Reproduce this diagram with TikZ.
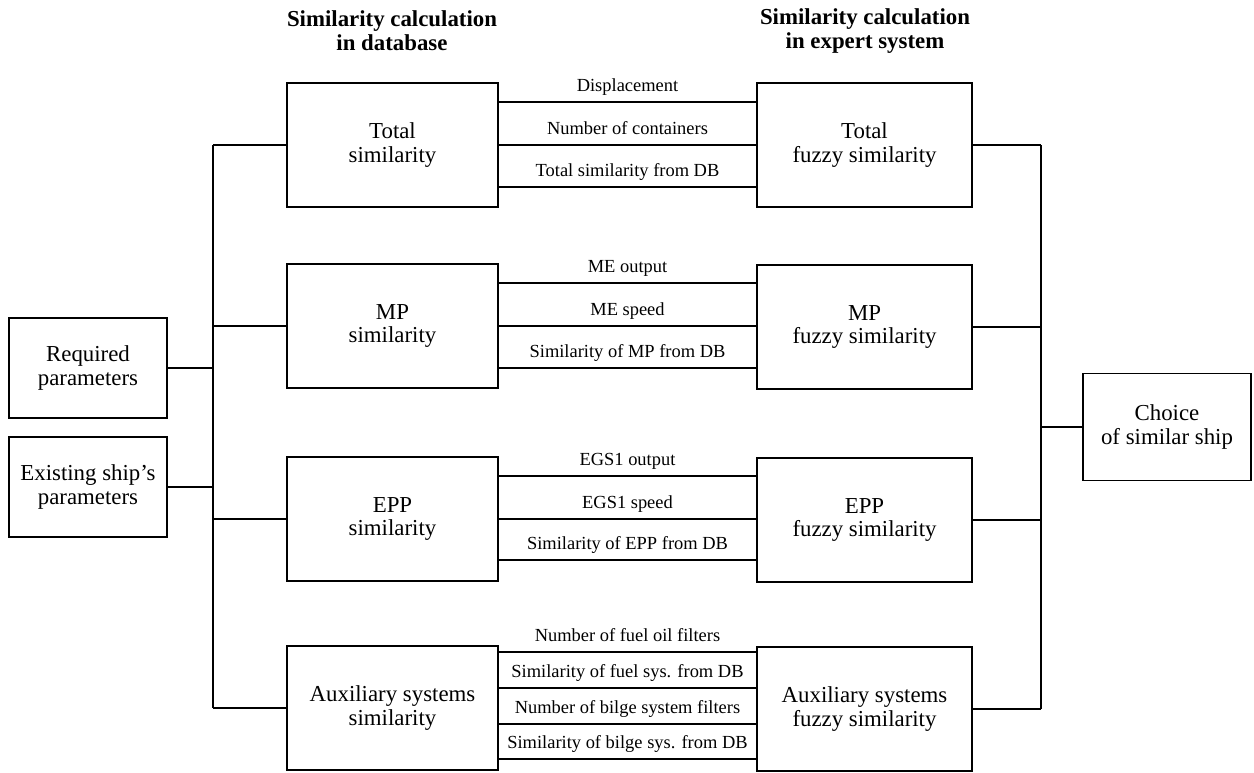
\documentclass[tikz,border=0pt]{standalone}
\usepackage{fontspec}
\setmainfont{Liberation Serif}

\begin{document}
\begin{tikzpicture}[x=0.02cm, y=-0.02cm, line width=0.9pt,
		box/.style={draw, align=center, inner sep=0pt, font=\fontsize{13}{13.5}\selectfont},
		lbox/.style={box, minimum width=4.22cm, minimum height=2.48cm},
		rbox/.style={box, minimum width=4.3cm, minimum height=2.48cm},
		sbox/.style={box, minimum width=3.16cm, minimum height=2cm},
		lbl/.style={above, inner sep=3pt, text height=7.5pt, text depth=2.5pt, font=\fontsize{10.5}{12}\selectfont},
		head/.style={align=center, font=\bfseries\fontsize{13}{13.6}\selectfont}]
			\useasboundingbox (0,0) rectangle (1254,772);
			\node[head] (hdb) at (392,31) {Similarity calculation\\in database};
			\node[head] (hes) at (865,31) {Similarity calculation\\in expert system};
			\node[sbox] (req) at (88,368) {Required\\parameters};
			\node[sbox] (exist) at (88,487) {Existing ship's\\parameters};
			\node[lbox] (tot) at (392.5,145) {Total\\similarity};
			\node[lbox] (mp) at (392.5,326) {MP\\similarity};
			\node[lbox] (epp) at (392.5,519) {EPP\\similarity};
			\node[lbox] (aux) at (392.5,708) {Auxiliary systems\\similarity};
			\node[rbox] (ftot) at (864.5,145) {Total\\fuzzy similarity};
			\node[rbox] (fmp) at (864.5,327) {MP\\fuzzy similarity};
			\node[rbox] (fepp) at (864.5,520) {EPP\\fuzzy similarity};
			\node[rbox] (faux) at (864.5,709) {Auxiliary systems\\fuzzy similarity};
			\node[sbox, minimum width=3.36cm, minimum height=2.14cm] (choice) at (1167,427) {Choice\\of similar ship};
			\coordinate (lbus) at (213,0);
			\coordinate (rbus) at (1041,0);
			\draw (tot.west -| lbus) -- (aux.west -| lbus);
			\draw (ftot.east -| rbus) -- (faux.east -| rbus);
			\foreach \n in {tot,mp,epp,aux}
				\draw (\n.west) -- (\n.west -| lbus);
			\foreach \n in {req,exist}
				\draw (\n.east) -- (\n.east -| lbus);
			\foreach \n in {ftot,fmp,fepp,faux}
				\draw (\n.east) -- (\n.east -| rbus);
			\draw (choice.west) -- (choice.west -| rbus);
			\foreach \d/\t in {0.86cm/Displacement, 0cm/Number of containers, -0.84cm/Total similarity from DB}
				\draw ([yshift=\d]tot.east) -- ([yshift=\d]tot.east -| ftot.west) node[midway, lbl] {\t};
			\foreach \d/\t in {0.86cm/ME output, 0cm/ME speed, -0.84cm/Similarity of MP from DB}
				\draw ([yshift=\d]mp.east) -- ([yshift=\d]mp.east -| fmp.west) node[midway, lbl] {\t};
			\foreach \d/\t in {0.86cm/EGS1 output, 0cm/EGS1 speed, -0.82cm/Similarity of EPP from DB}
				\draw ([yshift=\d]epp.east) -- ([yshift=\d]epp.east -| fepp.west) node[midway, lbl] {\t};
			\foreach \d/\t in {1.12cm/Number of fuel oil filters, 0.4cm/Similarity of fuel sys. from DB, -0.32cm/Number of bilge system filters, -1.02cm/Similarity of bilge sys. from DB}
				\draw ([yshift=\d]aux.east) -- ([yshift=\d]aux.east -| faux.west) node[midway, lbl] {\t};
		\end{tikzpicture}
\end{document}
